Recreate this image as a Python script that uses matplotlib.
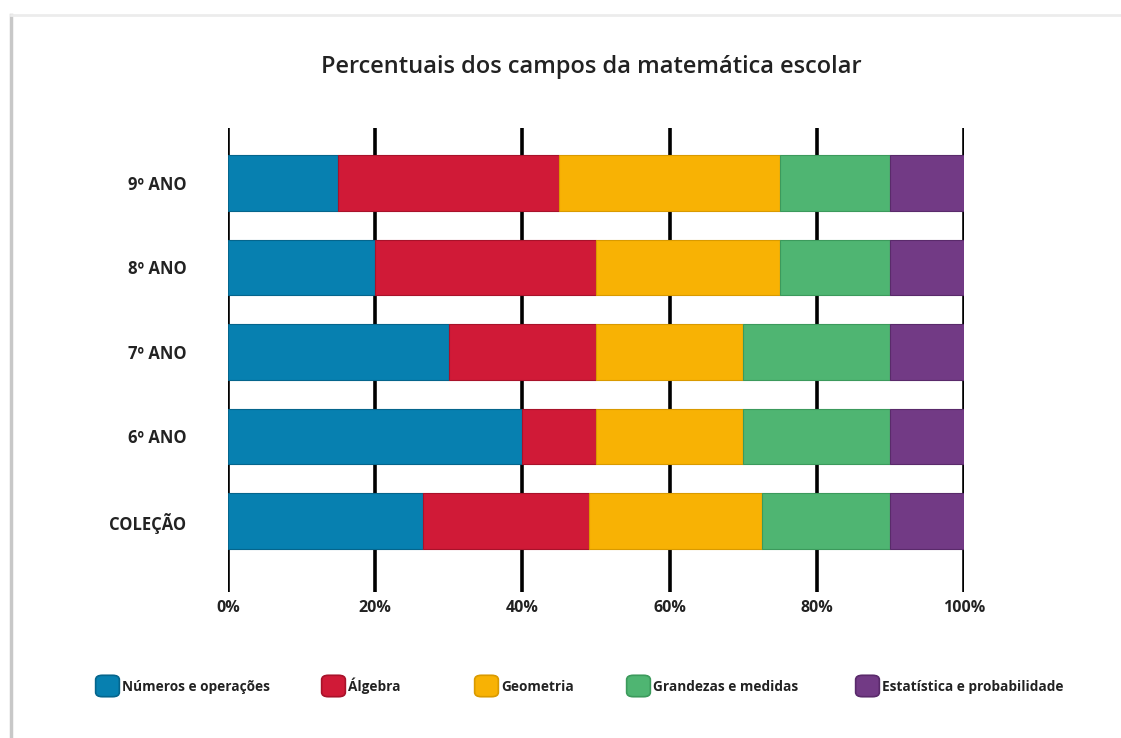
import matplotlib
matplotlib.use("Agg")
import matplotlib.pyplot as plt
from matplotlib.patches import FancyBboxPatch
from matplotlib.lines import Line2D

# Data: percentage of each mathematics field per school year
categories = ["9º ANO", "8º ANO", "7º ANO", "6º ANO", "COLEÇÃO"]
numeros = [15, 20, 30, 40, 26.5]
algebra = [30, 30, 20, 10, 22.5]
geometria = [30, 25, 20, 20, 23.5]
grandezas = [15, 15, 20, 20, 17.5]
estatistica = [10, 10, 10, 10, 10]

series_names = ["Números e operações", "Álgebra", "Geometria",
                "Grandezas e medidas", "Estatística e probabilidade"]
colors = ["#0780B0", "#D01A37", "#F8B204", "#4FB572", "#723A85"]
edge_colors = ["#05658C", "#A8122A", "#D99A00", "#3C9A5C", "#5A2A6B"]
tick_values = [0, 20, 40, 60, 80, 100]
tick_labels = ["0%", "20%", "40%", "60%", "80%", "100%"]
title = "Percentuais dos campos da matemática escolar"

plt.rcParams["font.family"] = ["Open Sans", "DejaVu Sans"]

fig = plt.figure(figsize=(11.21, 7.38), dpi=100)
fig.patch.set_facecolor("white")

# Soft frame on the left and top edges
fig.add_artist(Line2D([11 / 1121, 11 / 1121], [0, 1 - 15 / 738],
                      transform=fig.transFigure, color="#c8c8c8", lw=2.5))
fig.add_artist(Line2D([11 / 1121, 1], [1 - 15 / 738, 1 - 15 / 738],
                      transform=fig.transFigure, color="#ececec", lw=2.0))

ax = fig.add_axes([228 / 1121, 1 - 592 / 738, (964 - 228) / 1121, (592 - 128) / 738])

n = len(categories)
ypos = [n - 1 - i for i in range(n)]

for x in tick_values:
    ax.axvline(x, color="black", lw=2.6, zorder=1)

left = [0] * n
for vals, c, ec in zip([numeros, algebra, geometria, grandezas, estatistica],
                       colors, edge_colors):
    ax.barh(ypos, vals, left=left, height=0.66, color=c, edgecolor=ec,
            linewidth=0.8, zorder=2)
    left = [l + v for l, v in zip(left, vals)]

ax.set_xlim(0, 100)
ax.set_ylim(-0.84, n - 1 + 0.65)
for s in ax.spines.values():
    s.set_visible(False)
ax.set_xticks(tick_values)
ax.set_xticklabels(tick_labels, fontsize=11.5, fontweight="bold", color="#222222")
ax.tick_params(axis="x", length=0, pad=6)
ax.set_yticks(ypos)
ax.set_yticklabels(categories, fontsize=12, fontweight="bold", color="#222222")
ax.tick_params(axis="y", length=0, pad=30)

fig.text(591 / 1121, 1 - 67 / 738, title, ha="center", va="center",
         fontsize=17, fontweight="semibold", color="#222222")

# Legend built from rounded swatches and labels
legend_y = 686
swatch_x = [96, 322, 475, 627, 856]
sw = 23
for x0, name, c, ec in zip(swatch_x, series_names, colors, edge_colors):
    fig.add_artist(FancyBboxPatch(
        ((x0 + 3) / 1121, 1 - (legend_y + sw / 2 - 3) / 738),
        (sw - 6) / 1121, (sw - 6) / 738,
        boxstyle="round,pad=0.003,rounding_size=0.006",
        transform=fig.transFigure, facecolor=c, edgecolor=ec, lw=1.2))
    fig.text((x0 + sw + 3) / 1121, 1 - (legend_y + 5) / 738, name, ha="left",
             va="baseline", fontsize=9.8, fontweight="bold",
             color="#222222")

fig.savefig("out.png", dpi=100, facecolor="white")
